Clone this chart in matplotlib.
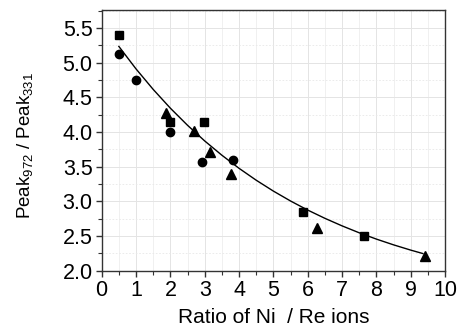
import matplotlib
matplotlib.use("Agg")
import matplotlib.pyplot as plt
from matplotlib.ticker import MultipleLocator

plt.rcParams['font.family'] = ['Liberation Sans', 'DejaVu Sans']
plt.rcParams['mathtext.fontset'] = 'custom'
plt.rcParams['mathtext.rm'] = 'Liberation Sans'
plt.rcParams['mathtext.it'] = 'Liberation Sans:italic'
plt.rcParams['mathtext.bf'] = 'Liberation Sans:bold'

sq_x = [0.49, 1.99, 2.99, 5.87, 7.64]
sq_y = [5.40, 4.14, 4.14, 2.85, 2.50]
ci_x = [0.49, 0.99, 1.99, 2.93, 3.81]
ci_y = [5.13, 4.75, 4.00, 3.57, 3.60]
tr_x = [1.87, 2.68, 3.14, 3.76, 6.27, 9.42]
tr_y = [4.28, 4.01, 3.71, 3.40, 2.61, 2.21]

fit_x = [0.5, 1.0, 1.5, 2.0, 2.5, 3.0, 3.5, 4.0, 4.5, 5.0, 5.5, 6.0, 6.5,
         7.0, 7.5, 8.0, 8.5, 9.0, 9.35]
fit_y = [5.236, 4.911, 4.615, 4.344, 4.097, 3.871, 3.665, 3.476, 3.304,
         3.147, 3.004, 2.873, 2.754, 2.645, 2.545, 2.454, 2.371, 2.295, 2.246]

fig = plt.figure(figsize=(4.58, 3.26), dpi=100)
ax = fig.add_axes([0.222, 0.170, 0.750, 0.799])

ax.set_xlim(0, 10)
ax.set_ylim(2.0, 5.76)
ax.xaxis.set_major_locator(MultipleLocator(1))
ax.xaxis.set_minor_locator(MultipleLocator(0.5))
ax.yaxis.set_major_locator(MultipleLocator(0.5))
ax.yaxis.set_minor_locator(MultipleLocator(0.25))

ax.grid(True, which='major', color='#e4e4e4', lw=0.7, zorder=0)
ax.grid(True, which='minor', axis='x', color='#eeeeee', lw=0.6, zorder=0)
ax.grid(True, which='minor', axis='y', color='#e8e8e8', lw=0.6, ls=(0, (2, 2)), zorder=0)

ax.plot(fit_x, fit_y, color='black', lw=1.0, zorder=2)
ax.plot(sq_x, sq_y, 's', color='black', ms=5.2, zorder=3, ls='none')
ax.plot(ci_x, ci_y, 'o', color='black', ms=6, zorder=3, ls='none')
ax.plot(tr_x, tr_y, '^', color='black', ms=6.5, zorder=3, ls='none')

for s in ax.spines.values():
    s.set_color('#333333')
    s.set_linewidth(1.0)

ax.tick_params(which='major', direction='out', length=4, width=1.0, labelsize=15.5,
               color='#333333', pad=2.5)
ax.tick_params(which='minor', direction='out', length=3, width=0.8, color='#333333')

ax.set_xlabel('Ratio of Ni  / Re ions', fontsize=15, labelpad=5)
ax.set_ylabel('Peak$_{972}$ / Peak$_{331}$', fontsize=13.5)
ax.yaxis.set_label_coords(-0.195, 0.48)

fig.savefig('out.png', dpi=100)
